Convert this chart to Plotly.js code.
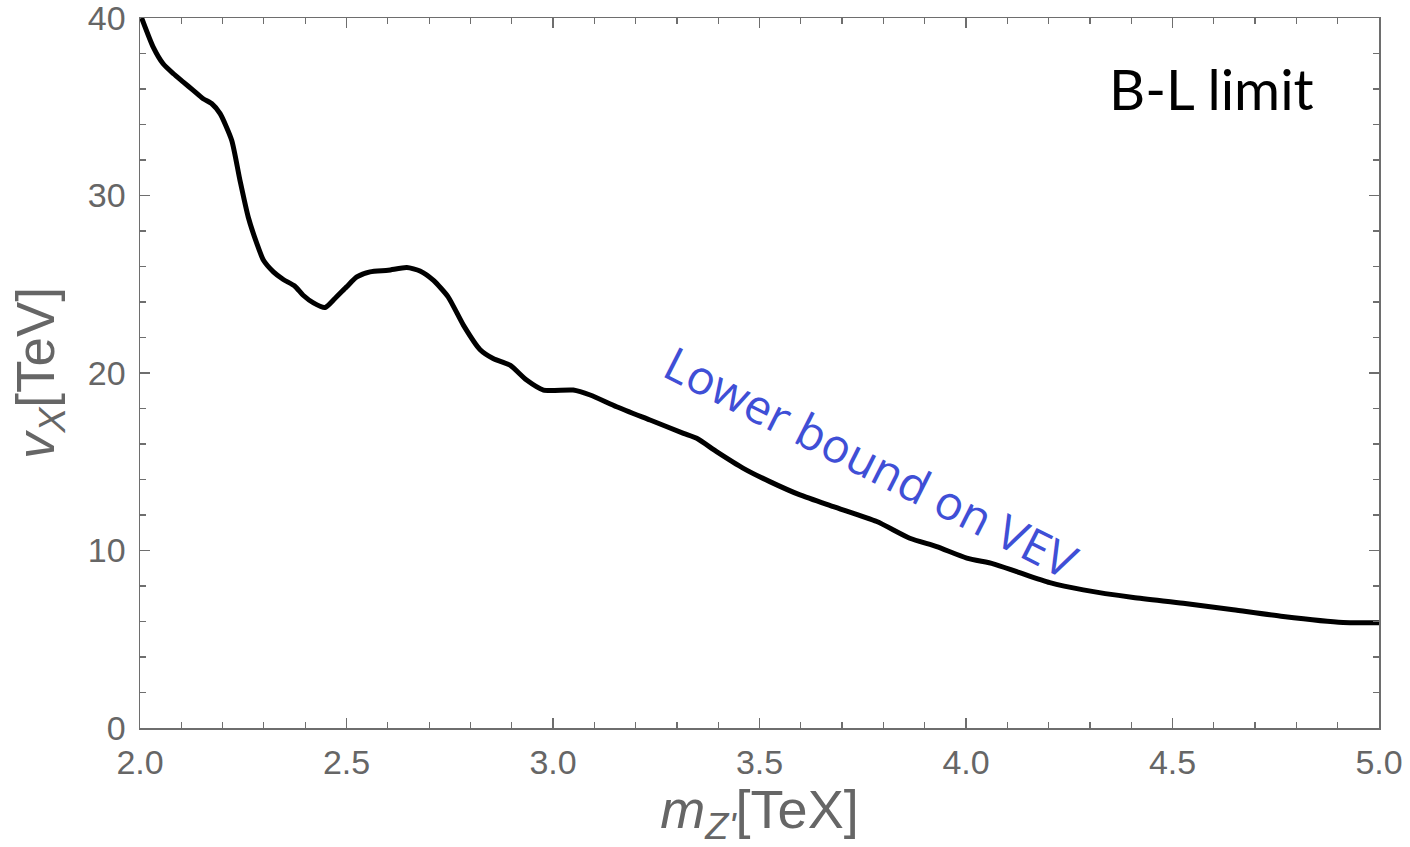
<!DOCTYPE html>
<html>
<head>
<meta charset="utf-8">
<script src="https://cdn.plot.ly/plotly-3.0.1.min.js"></script>
<style>html,body{margin:0;padding:0;background:#fff;}#chart{width:1410px;height:847px;}</style>
</head>
<body>
<div id="chart"></div>
<script>
// m_Z' [TeV]
const mZ = [2.004, 2.032, 2.056, 2.081, 2.105, 2.129, 2.153, 2.174, 2.194, 2.222, 2.242, 2.262, 2.283, 2.299, 2.323, 2.347, 2.375, 2.395, 2.420, 2.448, 2.472, 2.500, 2.525, 2.557, 2.601, 2.646, 2.678, 2.710, 2.746, 2.783, 2.823, 2.855, 2.896, 2.936, 2.977, 3.049, 3.090, 3.154, 3.235, 3.316, 3.348, 3.396, 3.461, 3.525, 3.598, 3.679, 3.784, 3.864, 3.929, 4.002, 4.066, 4.123, 4.203, 4.284, 4.405, 4.526, 4.647, 4.768, 4.913, 5.000];
// v_X [TeV]
const vX = [40.0, 38.36, 37.42, 36.86, 36.39, 35.92, 35.45, 35.17, 34.61, 33.11, 30.86, 28.79, 27.29, 26.35, 25.70, 25.27, 24.89, 24.38, 23.95, 23.69, 24.20, 24.85, 25.41, 25.70, 25.79, 25.94, 25.75, 25.23, 24.29, 22.70, 21.33, 20.82, 20.44, 19.60, 19.04, 19.04, 18.76, 18.10, 17.35, 16.60, 16.32, 15.57, 14.63, 13.88, 13.13, 12.47, 11.63, 10.69, 10.22, 9.57, 9.25, 8.81, 8.19, 7.78, 7.35, 7.03, 6.66, 6.28, 5.94, 5.93];

const xTickVals = [2.0, 2.5, 3.0, 3.5, 4.0, 4.5, 5.0];
const yTickVals = [0, 10, 20, 30, 40];
const labelText = "Lower bound on VEV";
const titleText = "B-L limit";

const axisColor = '#6e6e6e';
const common = {
  showgrid: false, zeroline: false, showline: true, linecolor: axisColor, linewidth: 1.5,
  mirror: 'ticks', ticks: 'inside', ticklen: 10, tickwidth: 1.5, tickcolor: axisColor,
  ticklabeloverflow: 'allow',
  tickfont: {family: 'Liberation Sans, Arial, sans-serif', size: 34, color: '#666666'},
};

const trace = {
  x: mZ, y: vX, type: 'scatter', mode: 'lines',
  line: {color: '#000000', width: 5, shape: 'spline', smoothing: 0.6},
  hoverinfo: 'skip', showlegend: false, cliponaxis: false
};

const layout = {
  width: 1410, height: 847,
  paper_bgcolor: '#ffffff', plot_bgcolor: '#ffffff',
  margin: {l: 140, r: 31, t: 18, b: 119},
  xaxis: Object.assign({}, common, {
    range: [2.0, 5.0], tickvals: xTickVals, tickformat: '.1f',
    minor: {dtick: 0.1, ticklen: 6, tickwidth: 1.2, tickcolor: axisColor, ticks: 'inside'},
    ticklabelstandoff: 4,
    title: {text: "<i>m</i><sub><i>Z'</i></sub>[TeX]", standoff: 6,
      font: {family: 'Liberation Sans, Arial, sans-serif', size: 54, color: '#666666'}}
  }),
  yaxis: Object.assign({}, common, {
    range: [0, 40], tickvals: yTickVals,
    minor: {dtick: 2, ticklen: 6, tickwidth: 1.2, tickcolor: axisColor, ticks: 'inside'},
    ticklabelstandoff: 6,
    title: {text: "<i>v</i><sub><i>X</i></sub>[TeV]", standoff: 16,
      font: {family: 'Liberation Sans, Arial, sans-serif', size: 53, color: '#666666'}}
  }),
  annotations: [
    {x: 3.772, y: 15.0, xref: 'x', yref: 'y', text: labelText, showarrow: false,
     textangle: 26.8, font: {family: 'Open Sans, Noto Sans, sans-serif', size: 47, color: '#3f4fd6'}},
    {x: 4.594, y: 36.05, xref: 'x', yref: 'y', text: titleText, showarrow: false,
     font: {family: 'Lato, Carlito, sans-serif', size: 56, color: '#000000'}}
  ]
};

Plotly.newPlot('chart', [trace], layout, {staticPlot: true, displayModeBar: false});
</script>
</body>
</html>
